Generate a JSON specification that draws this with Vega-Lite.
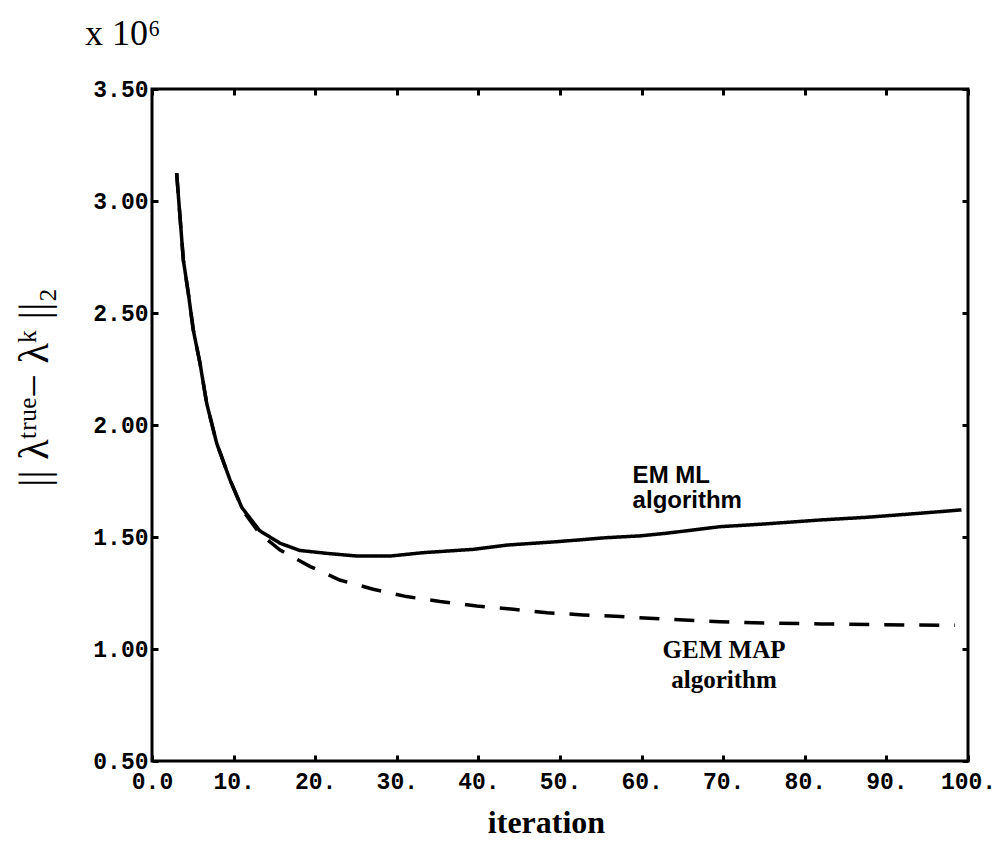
{
  "$schema": "https://vega.github.io/schema/vega-lite/v6.json",
  "width": 816,
  "height": 672,
  "autosize": {"type": "none"},
  "padding": {"left": 152, "top": 89, "right": 34, "bottom": 80},
  "background": "white",
  "config": {
    "view": {"stroke": "black", "strokeWidth": 3},
    "axis": {
      "domain": false,
      "grid": false,
      "tickColor": "black",
      "tickWidth": 3,
      "tickSize": -6,
      "labelColor": "black",
      "labelFont": "Liberation Mono",
      "labelFontSize": 23,
      "labelFontWeight": "bold",
      "labelFlush": false,
      "labelOverlap": false,
      "titleColor": "black"
    }
  },
  "title": {
    "text": "x 10⁶",
    "anchor": "start",
    "frame": "group",
    "font": "Liberation Serif",
    "fontSize": 36,
    "fontWeight": "normal",
    "color": "black",
    "baseline": "alphabetic",
    "dx": -67,
    "dy": 3,
    "offset": 0
  },
  "datasets": {
    "curves": [
      {"iteration": 3.02, "value": 3.124, "series": "EM ML"},
      {"iteration": 3.43, "value": 2.93, "series": "EM ML"},
      {"iteration": 3.84, "value": 2.737, "series": "EM ML"},
      {"iteration": 4.45, "value": 2.588, "series": "EM ML"},
      {"iteration": 5.06, "value": 2.424, "series": "EM ML"},
      {"iteration": 5.88, "value": 2.276, "series": "EM ML"},
      {"iteration": 6.7, "value": 2.097, "series": "EM ML"},
      {"iteration": 7.93, "value": 1.918, "series": "EM ML"},
      {"iteration": 9.56, "value": 1.755, "series": "EM ML"},
      {"iteration": 11.0, "value": 1.632, "series": "EM ML"},
      {"iteration": 13.2, "value": 1.528, "series": "EM ML"},
      {"iteration": 15.7, "value": 1.472, "series": "EM ML"},
      {"iteration": 18.1, "value": 1.44, "series": "EM ML"},
      {"iteration": 21.4, "value": 1.427, "series": "EM ML"},
      {"iteration": 25.1, "value": 1.415, "series": "EM ML"},
      {"iteration": 29.2, "value": 1.415, "series": "EM ML"},
      {"iteration": 33.2, "value": 1.43, "series": "EM ML"},
      {"iteration": 39.4, "value": 1.445, "series": "EM ML"},
      {"iteration": 43.5, "value": 1.464, "series": "EM ML"},
      {"iteration": 49.6, "value": 1.479, "series": "EM ML"},
      {"iteration": 55.7, "value": 1.497, "series": "EM ML"},
      {"iteration": 59.8, "value": 1.505, "series": "EM ML"},
      {"iteration": 63.1, "value": 1.517, "series": "EM ML"},
      {"iteration": 69.6, "value": 1.546, "series": "EM ML"},
      {"iteration": 75.0, "value": 1.558, "series": "EM ML"},
      {"iteration": 81.9, "value": 1.576, "series": "EM ML"},
      {"iteration": 87.6, "value": 1.588, "series": "EM ML"},
      {"iteration": 94.1, "value": 1.606, "series": "EM ML"},
      {"iteration": 99.2, "value": 1.621, "series": "EM ML"},
      {"iteration": 3.02, "value": 3.124, "series": "GEM MAP"},
      {"iteration": 3.43, "value": 2.93, "series": "GEM MAP"},
      {"iteration": 3.84, "value": 2.737, "series": "GEM MAP"},
      {"iteration": 4.45, "value": 2.588, "series": "GEM MAP"},
      {"iteration": 5.06, "value": 2.424, "series": "GEM MAP"},
      {"iteration": 5.88, "value": 2.276, "series": "GEM MAP"},
      {"iteration": 6.7, "value": 2.097, "series": "GEM MAP"},
      {"iteration": 7.93, "value": 1.918, "series": "GEM MAP"},
      {"iteration": 9.56, "value": 1.755, "series": "GEM MAP"},
      {"iteration": 11.19, "value": 1.615, "series": "GEM MAP"},
      {"iteration": 13.2, "value": 1.515, "series": "GEM MAP"},
      {"iteration": 15.7, "value": 1.442, "series": "GEM MAP"},
      {"iteration": 19.4, "value": 1.368, "series": "GEM MAP"},
      {"iteration": 23.0, "value": 1.308, "series": "GEM MAP"},
      {"iteration": 27.1, "value": 1.267, "series": "GEM MAP"},
      {"iteration": 31.2, "value": 1.234, "series": "GEM MAP"},
      {"iteration": 35.3, "value": 1.212, "series": "GEM MAP"},
      {"iteration": 39.8, "value": 1.192, "series": "GEM MAP"},
      {"iteration": 44.3, "value": 1.177, "series": "GEM MAP"},
      {"iteration": 48.4, "value": 1.162, "series": "GEM MAP"},
      {"iteration": 52.8, "value": 1.152, "series": "GEM MAP"},
      {"iteration": 57.4, "value": 1.145, "series": "GEM MAP"},
      {"iteration": 63.0, "value": 1.133, "series": "GEM MAP"},
      {"iteration": 69.6, "value": 1.122, "series": "GEM MAP"},
      {"iteration": 75.0, "value": 1.116, "series": "GEM MAP"},
      {"iteration": 81.9, "value": 1.112, "series": "GEM MAP"},
      {"iteration": 88.0, "value": 1.109, "series": "GEM MAP"},
      {"iteration": 94.0, "value": 1.107, "series": "GEM MAP"},
      {"iteration": 98.4, "value": 1.106, "series": "GEM MAP"}
    ],
    "notes": [
      {"label": "EM ML\nalgorithm", "iteration": 58.9, "value": 1.741, "kind": "em"},
      {"label": "GEM MAP\nalgorithm", "iteration": 70.1, "value": 0.96, "kind": "gem"}
    ]
  },
  "layer": [
    {
      "data": {"name": "curves"},
      "mark": {"type": "line", "color": "black", "strokeWidth": 3.5},
      "encoding": {
        "x": {
          "field": "iteration", "type": "quantitative",
          "scale": {"domain": [0, 100], "nice": false, "zero": false},
          "axis": {
            "orient": "bottom",
            "values": [0, 10, 20, 30, 40, 50, 60, 70, 80, 90, 100],
            "labelExpr": "datum.value == 0 ? '0.0' : datum.value + '.'",
            "labelPadding": 15,
            "labelDx": 4,
            "title": "iteration",
            "titleFont": "Liberation Serif",
            "titleFontSize": 32,
            "titleFontWeight": "bold",
            "titleX": 394,
            "titleY": 71,
            "titleBaseline": "alphabetic",
            "titleAlign": "center"
          }
        },
        "y": {
          "field": "value", "type": "quantitative",
          "scale": {"domain": [0.5, 3.5], "nice": false, "zero": false},
          "axis": {
            "orient": "left",
            "values": [0.5, 1, 1.5, 2, 2.5, 3, 3.5],
            "format": ".2f",
            "labelPadding": 10,
            "title": "|| λᵗʳᵘᵉ− λᵏ ||₂",
            "titleFont": "Liberation Serif",
            "titleFontSize": 42,
            "titleFontWeight": "normal",
            "titleAngle": -90,
            "titleX": -105,
            "titleY": 298,
            "titleBaseline": "alphabetic",
            "titleAlign": "center"
          }
        },
        "strokeDash": {
          "field": "series", "type": "nominal",
          "scale": {"domain": ["EM ML", "GEM MAP"], "range": [[1, 0], [20, 15]]},
          "legend": null
        }
      }
    },
    {
      "data": {"name": "notes"},
      "transform": [{"filter": "datum.kind == 'em'"}],
      "mark": {"type": "text", "align": "left", "baseline": "alphabetic", "font": "Liberation Sans", "fontSize": 24, "fontWeight": "bold", "lineBreak": "\n", "lineHeight": 25, "color": "black"},
      "encoding": {
        "x": {
          "field": "iteration", "type": "quantitative",
          "scale": {"domain": [0, 100], "nice": false, "zero": false},
          "axis": {"orient": "top", "values": [0, 10, 20, 30, 40, 50, 60, 70, 80, 90, 100], "labels": false, "title": null}
        },
        "y": {
          "field": "value", "type": "quantitative",
          "scale": {"domain": [0.5, 3.5], "nice": false, "zero": false},
          "axis": {"orient": "right", "values": [0.5, 1, 1.5, 2, 2.5, 3, 3.5], "labels": false, "title": null}
        },
        "text": {"field": "label"}
      }
    },
    {
      "data": {"name": "notes"},
      "transform": [{"filter": "datum.kind == 'gem'"}],
      "mark": {"type": "text", "align": "center", "baseline": "alphabetic", "font": "Liberation Serif", "fontSize": 25, "fontWeight": "bold", "lineBreak": "\n", "lineHeight": 30, "color": "black"},
      "encoding": {
        "x": {"field": "iteration", "type": "quantitative", "scale": {"domain": [0, 100], "nice": false, "zero": false}, "axis": null},
        "y": {"field": "value", "type": "quantitative", "scale": {"domain": [0.5, 3.5], "nice": false, "zero": false}, "axis": null},
        "text": {"field": "label"}
      }
    }
  ],
  "resolve": {"axis": {"x": "independent", "y": "independent"}}
}
